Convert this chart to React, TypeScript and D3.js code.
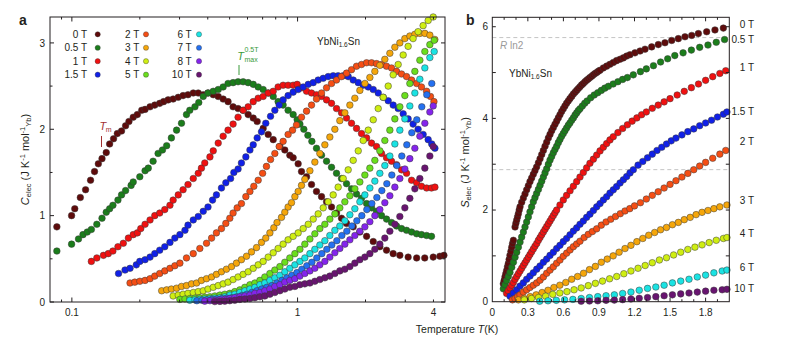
import React from "react";
import * as d3 from "d3";

type Pt = [number, number];

// ---------------- colours per field ----------------
const fieldColors: Record<string, string> = {
  "0 T": "#5e0b0b",
  "0.5 T": "#1b7d1b",
  "1 T": "#f01010",
  "1.5 T": "#1020e8",
  "2 T": "#f54e14",
  "3 T": "#f5a60a",
  "4 T": "#cfee12",
  "5 T": "#6ade1c",
  "6 T": "#1ae3e3",
  "7 T": "#2470f0",
  "8 T": "#8424ec",
  "10 T": "#681470",
};

// ---------------- panel a: C_elec (J K-1 mol-1) vs T (K) ----------------
const fieldsA = ["0 T", "0.5 T", "1 T", "1.5 T", "2 T", "3 T", "4 T", "5 T", "6 T", "7 T", "8 T", "10 T"];

const cA_0T: Pt[] = [[0.0858,0.87],[0.0997,1.00],[0.103,1.08],[0.109,1.21],[0.115,1.30],[0.121,1.41],[0.126,1.51],[0.131,1.60],[0.136,1.66],[0.142,1.73],[0.147,1.83],[0.153,1.89],[0.159,1.95],[0.166,1.98],[0.173,2.04],[0.179,2.09],[0.187,2.14],[0.195,2.17],[0.204,2.22],[0.211,2.23],[0.222,2.26],[0.233,2.28],[0.245,2.30],[0.255,2.32],[0.267,2.34],[0.281,2.35],[0.296,2.37],[0.311,2.39],[0.327,2.40],[0.345,2.42],[0.363,2.42],[0.382,2.40],[0.401,2.42],[0.423,2.40],[0.445,2.38],[0.468,2.35],[0.492,2.32],[0.518,2.26],[0.545,2.24],[0.574,2.22],[0.604,2.17],[0.636,2.13],[0.662,2.09],[0.704,2.01],[0.741,1.94],[0.780,1.88],[0.835,1.80],[0.878,1.76],[0.924,1.70],[0.956,1.67],[1.006,1.60],[1.041,1.51],[1.096,1.45],[1.153,1.36],[1.213,1.28],[1.277,1.22],[1.344,1.16],[1.414,1.10],[1.488,1.03],[1.566,0.97],[1.648,0.91],[1.764,0.87],[1.888,0.81],[2.022,0.76],[2.164,0.70],[2.315,0.64],[2.478,0.60],[2.652,0.56],[2.839,0.54],[3.09,0.52],[3.37,0.51],[3.66,0.51],[3.99,0.52],[4.27,0.53],[4.45,0.54]];
const cA_05T: Pt[] = [[0.0858,0.59],[0.0997,0.67],[0.107,0.73],[0.112,0.78],[0.117,0.81],[0.122,0.84],[0.129,0.90],[0.136,0.97],[0.142,1.04],[0.147,1.08],[0.152,1.12],[0.160,1.18],[0.166,1.24],[0.173,1.29],[0.183,1.35],[0.187,1.39],[0.200,1.45],[0.211,1.52],[0.218,1.55],[0.229,1.63],[0.241,1.72],[0.252,1.76],[0.263,1.81],[0.276,1.90],[0.291,1.99],[0.306,2.07],[0.322,2.17],[0.333,2.22],[0.351,2.26],[0.365,2.31],[0.382,2.38],[0.401,2.42],[0.423,2.44],[0.445,2.46],[0.468,2.49],[0.492,2.53],[0.518,2.54],[0.545,2.55],[0.574,2.55],[0.604,2.54],[0.636,2.52],[0.669,2.49],[0.704,2.46],[0.741,2.42],[0.780,2.38],[0.820,2.32],[0.863,2.28],[0.908,2.22],[0.956,2.17],[0.996,2.11],[1.024,2.06],[1.066,2.00],[1.111,1.93],[1.157,1.86],[1.213,1.78],[1.277,1.70],[1.344,1.63],[1.414,1.56],[1.488,1.49],[1.566,1.43],[1.648,1.37],[1.734,1.31],[1.825,1.25],[1.920,1.20],[2.022,1.14],[2.127,1.09],[2.238,1.05],[2.355,1.00],[2.478,0.96],[2.608,0.92],[2.745,0.88],[2.888,0.85],[3.04,0.83],[3.20,0.81],[3.37,0.79],[3.54,0.78],[3.73,0.77],[3.92,0.76]];
const cA_1T: Pt[] = [[0.122,0.47],[0.129,0.51],[0.138,0.54],[0.145,0.56],[0.152,0.59],[0.160,0.64],[0.169,0.68],[0.178,0.74],[0.187,0.78],[0.195,0.80],[0.202,0.85],[0.211,0.90],[0.222,0.95],[0.233,1.00],[0.245,1.03],[0.258,1.07],[0.272,1.12],[0.281,1.18],[0.296,1.24],[0.311,1.30],[0.327,1.36],[0.345,1.43],[0.363,1.49],[0.375,1.55],[0.388,1.61],[0.409,1.68],[0.423,1.75],[0.445,1.84],[0.468,1.92],[0.492,1.99],[0.518,2.06],[0.545,2.14],[0.574,2.22],[0.604,2.26],[0.636,2.32],[0.669,2.36],[0.704,2.38],[0.741,2.42],[0.780,2.44],[0.820,2.49],[0.863,2.51],[0.908,2.51],[0.956,2.51],[0.996,2.52],[1.041,2.48],[1.096,2.44],[1.153,2.42],[1.213,2.40],[1.277,2.38],[1.344,2.34],[1.414,2.30],[1.488,2.24],[1.566,2.19],[1.648,2.13],[1.734,2.07],[1.825,2.01],[1.920,1.95],[2.022,1.90],[2.127,1.84],[2.238,1.80],[2.355,1.72],[2.478,1.67],[2.608,1.63],[2.745,1.59],[2.888,1.53],[3.04,1.49],[3.20,1.41],[3.37,1.38],[3.54,1.34],[3.73,1.32],[3.92,1.32],[4.06,1.33]];
const cA_15T: Pt[] = [[0.161,0.33],[0.172,0.37],[0.181,0.39],[0.193,0.43],[0.200,0.47],[0.211,0.49],[0.222,0.52],[0.233,0.56],[0.245,0.60],[0.258,0.64],[0.272,0.69],[0.286,0.74],[0.301,0.78],[0.317,0.83],[0.327,0.89],[0.345,0.95],[0.363,0.99],[0.382,1.05],[0.401,1.10],[0.420,1.18],[0.437,1.24],[0.460,1.32],[0.481,1.38],[0.505,1.43],[0.522,1.50],[0.545,1.54],[0.564,1.61],[0.590,1.68],[0.615,1.76],[0.636,1.82],[0.662,1.90],[0.692,1.97],[0.723,2.07],[0.759,2.15],[0.793,2.22],[0.829,2.28],[0.863,2.34],[0.908,2.39],[0.956,2.43],[1.006,2.46],[1.059,2.49],[1.115,2.52],[1.173,2.54],[1.234,2.57],[1.299,2.59],[1.367,2.61],[1.438,2.62],[1.513,2.62],[1.593,2.62],[1.676,2.61],[1.764,2.57],[1.857,2.54],[1.954,2.51],[2.056,2.49],[2.164,2.46],[2.277,2.42],[2.396,2.37],[2.521,2.33],[2.652,2.28],[2.791,2.24],[2.937,2.18],[3.09,2.12],[3.25,2.06],[3.42,2.00],[3.60,1.94],[3.79,1.88],[3.93,1.83],[4.06,1.78]];
const cA_2T: Pt[] = [[0.181,0.22],[0.190,0.23],[0.200,0.24],[0.211,0.25],[0.222,0.27],[0.233,0.30],[0.245,0.33],[0.258,0.36],[0.272,0.39],[0.286,0.42],[0.301,0.45],[0.322,0.51],[0.345,0.56],[0.369,0.62],[0.395,0.68],[0.416,0.74],[0.437,0.80],[0.460,0.85],[0.481,0.91],[0.501,0.97],[0.518,1.03],[0.540,1.09],[0.564,1.14],[0.590,1.22],[0.615,1.28],[0.640,1.34],[0.669,1.41],[0.700,1.49],[0.728,1.57],[0.759,1.65],[0.793,1.72],[0.829,1.80],[0.863,1.86],[0.908,1.94],[0.950,1.99],[0.989,2.05],[1.041,2.14],[1.096,2.21],[1.153,2.28],[1.213,2.35],[1.277,2.42],[1.344,2.48],[1.414,2.53],[1.488,2.57],[1.566,2.61],[1.648,2.65],[1.734,2.69],[1.825,2.73],[1.920,2.75],[2.022,2.77],[2.127,2.77],[2.238,2.76],[2.355,2.75],[2.478,2.73],[2.608,2.71],[2.745,2.67],[2.888,2.64],[3.04,2.61],[3.20,2.57],[3.37,2.53],[3.54,2.49],[3.73,2.44],[3.88,2.38],[4.02,2.32]];
const cA_3T: Pt[] = [[0.250,0.13],[0.263,0.14],[0.276,0.15],[0.291,0.16],[0.306,0.18],[0.322,0.19],[0.339,0.21],[0.357,0.22],[0.375,0.25],[0.395,0.27],[0.416,0.29],[0.437,0.32],[0.460,0.35],[0.484,0.38],[0.510,0.41],[0.536,0.45],[0.564,0.49],[0.594,0.53],[0.625,0.58],[0.658,0.63],[0.692,0.69],[0.723,0.74],[0.754,0.80],[0.785,0.86],[0.811,0.92],[0.849,0.98],[0.878,1.04],[0.908,1.10],[0.940,1.15],[0.973,1.22],[1.006,1.28],[1.041,1.35],[1.077,1.42],[1.134,1.52],[1.193,1.62],[1.255,1.72],[1.321,1.82],[1.390,1.91],[1.463,2.00],[1.539,2.10],[1.620,2.19],[1.705,2.28],[1.794,2.36],[1.888,2.45],[1.987,2.53],[2.091,2.60],[2.200,2.67],[2.315,2.74],[2.436,2.81],[2.564,2.88],[2.698,2.95],[2.839,3.00],[2.988,3.05],[3.144,3.08],[3.309,3.10],[3.482,3.11],[3.664,3.11],[3.856,3.09],[4.057,3.04]];
const cA_4T: Pt[] = [[0.281,0.07],[0.296,0.08],[0.311,0.09],[0.327,0.10],[0.345,0.11],[0.363,0.12],[0.382,0.13],[0.401,0.15],[0.423,0.17],[0.445,0.19],[0.468,0.21],[0.492,0.23],[0.518,0.26],[0.545,0.29],[0.574,0.32],[0.604,0.35],[0.636,0.39],[0.669,0.43],[0.704,0.47],[0.741,0.52],[0.780,0.57],[0.820,0.62],[0.863,0.67],[0.908,0.72],[0.956,0.76],[1.006,0.80],[1.059,0.85],[1.115,0.90],[1.173,0.96],[1.234,1.02],[1.299,1.09],[1.367,1.16],[1.438,1.24],[1.513,1.33],[1.593,1.43],[1.676,1.53],[1.764,1.64],[1.857,1.75],[1.954,1.87],[2.056,1.99],[2.164,2.11],[2.277,2.24],[2.396,2.37],[2.521,2.50],[2.652,2.63],[2.791,2.75],[2.937,2.86],[3.09,2.96],[3.25,3.05],[3.42,3.13],[3.60,3.20],[3.79,3.26],[3.99,3.30]];
const cA_5T: Pt[] = [[0.301,0.03],[0.317,0.035],[0.333,0.04],[0.351,0.045],[0.369,0.05],[0.388,0.055],[0.409,0.06],[0.430,0.07],[0.453,0.08],[0.476,0.09],[0.501,0.10],[0.527,0.12],[0.555,0.14],[0.584,0.17],[0.615,0.20],[0.647,0.22],[0.681,0.25],[0.716,0.29],[0.754,0.33],[0.793,0.37],[0.835,0.41],[0.878,0.46],[0.924,0.51],[0.973,0.56],[1.024,0.61],[1.077,0.67],[1.134,0.73],[1.193,0.79],[1.255,0.85],[1.321,0.90],[1.390,0.96],[1.463,1.02],[1.539,1.09],[1.620,1.16],[1.705,1.23],[1.794,1.31],[1.888,1.39],[1.987,1.47],[2.091,1.55],[2.200,1.64],[2.315,1.75],[2.436,1.87],[2.564,1.99],[2.698,2.12],[2.839,2.26],[2.988,2.39],[3.144,2.53],[3.309,2.67],[3.482,2.80],[3.664,2.90],[3.856,2.98],[4.03,3.03]];
const cA_6T: Pt[] = [[0.333,0.02],[0.351,0.025],[0.369,0.03],[0.388,0.035],[0.409,0.04],[0.430,0.045],[0.453,0.05],[0.476,0.06],[0.501,0.08],[0.527,0.09],[0.555,0.11],[0.584,0.13],[0.615,0.15],[0.647,0.17],[0.681,0.20],[0.716,0.22],[0.754,0.25],[0.793,0.28],[0.835,0.31],[0.878,0.35],[0.924,0.39],[0.973,0.43],[1.024,0.47],[1.077,0.51],[1.134,0.56],[1.193,0.61],[1.255,0.66],[1.321,0.71],[1.390,0.77],[1.463,0.83],[1.539,0.88],[1.620,0.94],[1.705,1.01],[1.794,1.08],[1.888,1.16],[1.987,1.24],[2.091,1.32],[2.200,1.40],[2.315,1.49],[2.436,1.58],[2.564,1.69],[2.698,1.83],[2.839,1.99],[2.988,2.12],[3.144,2.27],[3.309,2.42],[3.482,2.58],[3.664,2.71],[3.856,2.83],[4.03,2.90]];
const cA_7T: Pt[] = [[0.358,0.015],[0.377,0.02],[0.396,0.025],[0.417,0.03],[0.439,0.035],[0.462,0.04],[0.486,0.045],[0.512,0.05],[0.538,0.06],[0.567,0.075],[0.596,0.09],[0.627,0.11],[0.660,0.13],[0.694,0.15],[0.731,0.17],[0.769,0.19],[0.809,0.22],[0.852,0.25],[0.896,0.28],[0.943,0.31],[0.993,0.34],[1.045,0.38],[1.099,0.42],[1.157,0.46],[1.217,0.51],[1.281,0.56],[1.348,0.61],[1.418,0.66],[1.493,0.71],[1.571,0.77],[1.653,0.82],[1.740,0.88],[1.831,0.94],[1.926,1.00],[2.027,1.07],[2.133,1.14],[2.245,1.21],[2.362,1.29],[2.486,1.37],[2.616,1.47],[2.752,1.58],[2.896,1.69],[3.048,1.82],[3.207,1.96],[3.375,2.11],[3.551,2.26],[3.737,2.40],[3.932,2.53]];
const cA_8T: Pt[] = [[0.388,0.01],[0.409,0.015],[0.430,0.02],[0.453,0.025],[0.476,0.03],[0.501,0.04],[0.527,0.05],[0.555,0.06],[0.584,0.07],[0.615,0.08],[0.647,0.10],[0.681,0.11],[0.716,0.13],[0.754,0.15],[0.793,0.18],[0.835,0.20],[0.878,0.23],[0.924,0.25],[0.973,0.27],[1.024,0.30],[1.077,0.33],[1.134,0.36],[1.193,0.39],[1.255,0.43],[1.321,0.47],[1.390,0.52],[1.463,0.57],[1.539,0.62],[1.620,0.67],[1.705,0.72],[1.794,0.77],[1.888,0.82],[1.987,0.87],[2.091,0.93],[2.200,1.00],[2.315,1.07],[2.436,1.15],[2.564,1.23],[2.698,1.33],[2.839,1.43],[2.988,1.54],[3.144,1.66],[3.309,1.78],[3.482,1.92],[3.664,2.07],[3.856,2.20],[3.99,2.27]];
const cA_10T: Pt[] = [[0.430,0.005],[0.453,0.007],[0.476,0.01],[0.501,0.015],[0.527,0.02],[0.555,0.03],[0.584,0.035],[0.615,0.04],[0.647,0.05],[0.681,0.06],[0.716,0.07],[0.754,0.09],[0.793,0.11],[0.835,0.13],[0.878,0.15],[0.924,0.17],[0.973,0.18],[1.024,0.20],[1.077,0.21],[1.134,0.22],[1.193,0.24],[1.255,0.26],[1.321,0.28],[1.390,0.30],[1.463,0.33],[1.539,0.36],[1.620,0.38],[1.705,0.41],[1.794,0.45],[1.888,0.49],[1.987,0.52],[2.091,0.56],[2.200,0.61],[2.315,0.67],[2.436,0.74],[2.564,0.82],[2.698,0.90],[2.839,0.99],[2.988,1.09],[3.144,1.20],[3.309,1.31],[3.482,1.43],[3.664,1.55],[3.856,1.69],[3.99,1.80]];

const seriesA: Pt[][] = [cA_0T, cA_05T, cA_1T, cA_15T, cA_2T, cA_3T, cA_4T, cA_5T, cA_6T, cA_7T, cA_8T, cA_10T];

// ticks panel a
const aXMajor = [0.1, 1];
const aXMinor = [0.09, 0.2, 0.3, 0.4, 0.5, 0.6, 0.7, 0.8, 0.9, 2, 3, 4];
const aXLabels = [0.1, 1, 4];
const aYMajor = [0, 1, 2, 3];
const aYMinor = [0.5, 1.5, 2.5];

// ---------------- panel b: S_elec vs T (linear) ----------------
const fieldsB = ["0 T", "0.5 T", "1 T", "1.5 T", "2 T", "3 T", "4 T", "6 T", "10 T"];

const sB_0T: Pt[] = [[0.093,0.39],[0.100,0.46],[0.107,0.54],[0.114,0.61],[0.121,0.68],[0.128,0.76],[0.135,0.83],[0.142,0.92],[0.149,1.01],[0.157,1.10],[0.164,1.19],[0.171,1.27],[0.178,1.34],[0.192,1.63],[0.199,1.71],[0.206,1.78],[0.213,1.85],[0.220,1.92],[0.227,2.00],[0.234,2.07],[0.248,2.17],[0.262,2.26],[0.276,2.35],[0.290,2.44],[0.304,2.53],[0.318,2.62],[0.332,2.70],[0.346,2.78],[0.360,2.86],[0.374,2.94],[0.389,3.03],[0.403,3.12],[0.417,3.21],[0.431,3.30],[0.445,3.39],[0.459,3.48],[0.473,3.57],[0.487,3.65],[0.501,3.73],[0.515,3.80],[0.529,3.87],[0.543,3.94],[0.557,4.01],[0.571,4.08],[0.585,4.15],[0.599,4.21],[0.613,4.27],[0.627,4.33],[0.641,4.38],[0.655,4.43],[0.670,4.48],[0.684,4.53],[0.698,4.57],[0.712,4.61],[0.726,4.65],[0.740,4.69],[0.754,4.73],[0.768,4.76],[0.782,4.80],[0.796,4.83],[0.810,4.86],[0.824,4.89],[0.839,4.92],[0.853,4.95],[0.867,4.98],[0.881,5.00],[0.895,5.03],[0.909,5.05],[0.937,5.10],[0.965,5.14],[0.993,5.18],[1.021,5.22],[1.049,5.26],[1.078,5.29],[1.106,5.32],[1.134,5.36],[1.162,5.39],[1.204,5.43],[1.247,5.47],[1.289,5.51],[1.345,5.56],[1.401,5.61],[1.457,5.65],[1.514,5.70],[1.570,5.74],[1.626,5.78],[1.683,5.81],[1.739,5.85],[1.809,5.89],[1.879,5.93],[1.950,5.97]];
const sB_05T: Pt[] = [[0.093,0.28],[0.107,0.37],[0.121,0.46],[0.135,0.55],[0.149,0.64],[0.164,0.75],[0.178,0.86],[0.192,0.97],[0.206,1.08],[0.220,1.19],[0.234,1.30],[0.248,1.41],[0.262,1.52],[0.276,1.63],[0.290,1.74],[0.304,1.85],[0.318,1.96],[0.332,2.07],[0.346,2.18],[0.360,2.27],[0.374,2.36],[0.389,2.45],[0.403,2.54],[0.417,2.63],[0.431,2.72],[0.445,2.81],[0.459,2.90],[0.473,3.00],[0.487,3.09],[0.501,3.17],[0.515,3.25],[0.529,3.32],[0.543,3.39],[0.557,3.47],[0.571,3.54],[0.585,3.61],[0.599,3.67],[0.613,3.73],[0.627,3.79],[0.641,3.85],[0.655,3.90],[0.670,3.96],[0.684,4.01],[0.698,4.07],[0.712,4.12],[0.726,4.17],[0.740,4.21],[0.760,4.27],[0.780,4.33],[0.800,4.38],[0.830,4.45],[0.860,4.51],[0.890,4.56],[0.920,4.61],[0.950,4.66],[0.980,4.70],[1.020,4.75],[1.060,4.80],[1.100,4.85],[1.140,4.89],[1.190,4.95],[1.250,5.02],[1.300,5.08],[1.360,5.15],[1.420,5.23],[1.480,5.30],[1.540,5.37],[1.610,5.43],[1.680,5.49],[1.750,5.55],[1.820,5.60],[1.890,5.66],[1.960,5.72]];
const sB_1T: Pt[] = [[0.121,0.18],[0.135,0.24],[0.150,0.30],[0.164,0.36],[0.178,0.42],[0.192,0.49],[0.206,0.55],[0.220,0.61],[0.234,0.67],[0.248,0.73],[0.262,0.79],[0.276,0.85],[0.290,0.91],[0.304,0.97],[0.318,1.03],[0.332,1.09],[0.346,1.15],[0.360,1.21],[0.375,1.27],[0.389,1.34],[0.403,1.40],[0.417,1.46],[0.431,1.52],[0.445,1.58],[0.459,1.64],[0.473,1.70],[0.487,1.76],[0.501,1.82],[0.515,1.88],[0.529,1.94],[0.543,2.00],[0.571,2.11],[0.599,2.22],[0.627,2.32],[0.656,2.42],[0.684,2.52],[0.712,2.62],[0.740,2.72],[0.768,2.82],[0.796,2.92],[0.824,3.02],[0.853,3.11],[0.881,3.20],[0.909,3.29],[0.937,3.37],[0.965,3.45],[0.993,3.53],[1.021,3.60],[1.060,3.69],[1.100,3.78],[1.140,3.86],[1.180,3.94],[1.220,4.01],[1.260,4.08],[1.300,4.14],[1.350,4.22],[1.400,4.29],[1.450,4.36],[1.500,4.43],[1.560,4.51],[1.620,4.59],[1.680,4.67],[1.740,4.75],[1.800,4.83],[1.860,4.91],[1.920,4.98],[1.970,5.04]];
const sB_15T: Pt[] = [[0.150,0.12],[0.178,0.19],[0.206,0.26],[0.234,0.34],[0.262,0.41],[0.290,0.49],[0.318,0.56],[0.346,0.63],[0.375,0.71],[0.403,0.78],[0.431,0.86],[0.459,0.93],[0.487,1.01],[0.515,1.08],[0.543,1.16],[0.571,1.23],[0.599,1.31],[0.627,1.38],[0.656,1.46],[0.684,1.54],[0.712,1.61],[0.740,1.69],[0.768,1.76],[0.796,1.84],[0.824,1.91],[0.853,1.99],[0.881,2.07],[0.909,2.14],[0.937,2.22],[0.965,2.29],[0.993,2.37],[1.021,2.44],[1.049,2.51],[1.078,2.59],[1.106,2.66],[1.134,2.73],[1.162,2.81],[1.190,2.88],[1.230,2.98],[1.270,3.06],[1.310,3.14],[1.350,3.22],[1.390,3.30],[1.430,3.37],[1.470,3.44],[1.510,3.51],[1.550,3.57],[1.600,3.64],[1.650,3.71],[1.700,3.77],[1.750,3.84],[1.800,3.90],[1.850,3.96],[1.900,4.03],[1.950,4.09],[1.980,4.14]];
const sB_2T: Pt[] = [[0.170,0.04],[0.192,0.07],[0.213,0.11],[0.234,0.15],[0.262,0.21],[0.290,0.26],[0.318,0.31],[0.346,0.36],[0.375,0.41],[0.403,0.47],[0.431,0.54],[0.459,0.62],[0.487,0.69],[0.515,0.76],[0.543,0.84],[0.571,0.91],[0.599,0.99],[0.628,1.06],[0.656,1.13],[0.684,1.20],[0.712,1.26],[0.740,1.32],[0.775,1.40],[0.810,1.47],[0.845,1.53],[0.881,1.59],[0.920,1.67],[0.960,1.74],[1.000,1.80],[1.040,1.86],[1.080,1.92],[1.120,1.98],[1.160,2.03],[1.200,2.09],[1.250,2.16],[1.300,2.24],[1.350,2.32],[1.400,2.40],[1.450,2.48],[1.500,2.56],[1.550,2.64],[1.600,2.72],[1.650,2.80],[1.700,2.88],[1.750,2.96],[1.800,3.04],[1.860,3.13],[1.920,3.22],[1.970,3.30]];
const sB_3T: Pt[] = [[0.22,0.04],[0.27,0.07],[0.32,0.11],[0.37,0.15],[0.42,0.20],[0.47,0.25],[0.52,0.31],[0.57,0.36],[0.62,0.42],[0.67,0.49],[0.72,0.55],[0.77,0.62],[0.82,0.70],[0.87,0.77],[0.92,0.86],[0.97,0.93],[1.02,1.00],[1.07,1.08],[1.12,1.16],[1.17,1.23],[1.22,1.31],[1.27,1.38],[1.32,1.45],[1.37,1.51],[1.42,1.57],[1.47,1.62],[1.52,1.68],[1.57,1.73],[1.62,1.79],[1.67,1.84],[1.72,1.90],[1.77,1.95],[1.82,1.99],[1.87,2.03],[1.92,2.07],[1.98,2.11]];
const sB_4T: Pt[] = [[0.27,0.04],[0.33,0.07],[0.39,0.09],[0.45,0.12],[0.51,0.16],[0.57,0.19],[0.63,0.22],[0.69,0.26],[0.75,0.30],[0.81,0.35],[0.87,0.40],[0.93,0.45],[0.99,0.50],[1.05,0.55],[1.11,0.61],[1.17,0.67],[1.23,0.73],[1.29,0.79],[1.35,0.85],[1.41,0.91],[1.47,0.96],[1.53,1.02],[1.59,1.08],[1.65,1.14],[1.71,1.19],[1.77,1.24],[1.83,1.29],[1.89,1.34],[1.95,1.38],[1.98,1.40]];
const sB_6T: Pt[] = [[0.40,0.01],[0.47,0.02],[0.54,0.03],[0.61,0.04],[0.68,0.05],[0.75,0.07],[0.82,0.09],[0.89,0.11],[0.96,0.13],[1.03,0.15],[1.10,0.18],[1.17,0.21],[1.24,0.25],[1.31,0.29],[1.38,0.32],[1.45,0.36],[1.52,0.41],[1.59,0.45],[1.66,0.49],[1.73,0.54],[1.80,0.58],[1.87,0.63],[1.94,0.67],[1.98,0.69]];
const sB_10T: Pt[] = [[0.75,0.01],[0.82,0.015],[0.89,0.02],[0.96,0.03],[1.03,0.035],[1.10,0.045],[1.17,0.06],[1.24,0.075],[1.31,0.09],[1.38,0.11],[1.45,0.13],[1.52,0.15],[1.59,0.17],[1.66,0.19],[1.73,0.21],[1.80,0.23],[1.87,0.25],[1.94,0.26],[1.98,0.27]];

const seriesB: Pt[][] = [sB_0T, sB_05T, sB_1T, sB_15T, sB_2T, sB_3T, sB_4T, sB_6T, sB_10T];

const bXTicks = d3.range(1, 20).map((i) => i / 10);
const bXLabels = [0, 0.3, 0.6, 0.9, 1.2, 1.5, 1.8];
const bYTicks = [1, 2, 3, 4, 5, 6];
const bYLabels = [0, 2, 4, 6];
const Rln2 = 8.314 * Math.log(2);

// legend arrangement (columns of panel a legend)
const legendCols = [["0 T", "0.5 T", "1 T", "1.5 T"], ["2 T", "3 T", "4 T", "5 T"], ["6 T", "7 T", "8 T", "10 T"]];
// per-label vertical nudges (px) for panel-b right labels
const labelNudgeB = [-3.5, -0.5, -3, -1, -9, -4.5, -4, -3, -0.5];

const FONT = "Liberation Sans, Arial, Helvetica, sans-serif";
const INK = "#231f20";

export default function App() {
  const W = 789, H = 351;
  // panel a
  const aL = 50, aR = 445, aT = 17, aB = 302;
  const xA = d3.scaleLog().domain([0.08, 4.5]).range([aL, aR]);
  const yA = d3.scaleLinear().domain([0, 3.3]).range([aB, aT]);
  // panel b
  const bL = 492.3, bR = 729.3, bT = 17.3, bB = 301.7;
  const xB = d3.scaleLinear().domain([0, 2]).range([bL, bR]);
  const yB = d3.scaleLinear().domain([0, 6.2]).range([bB, bB - 6.2 * 45.83]);

  const dotStroke = "#3a3a3a";
  const r = 3.3;

  return (
    <svg width={W} height={H} viewBox={`0 0 ${W} ${H}`} style={{ position: "absolute", left: 0, top: 0, background: "#fff" }} fontFamily={FONT}>
      <rect x={0} y={0} width={W} height={H} fill="#fff" />

      {/* ============ PANEL A ============ */}
      <text x={19} y={25} fontSize={14} fontWeight="bold" fill={INK}>a</text>

      {/* data */}
      <g>
        {seriesA.map((s, i) => (
          <g key={i}>
            {s.map((p, j) => (
              <circle key={j} cx={xA(p[0])} cy={yA(p[1])} r={r} fill={fieldColors[fieldsA[i]]} stroke={dotStroke} strokeWidth={0.5} />
            ))}
          </g>
        ))}
      </g>

      {/* frame */}
      <rect x={aL} y={aT} width={aR - aL} height={aB - aT} fill="none" stroke={INK} strokeWidth={1} />

      {/* x ticks */}
      {aXMajor.map((t) => (
        <g key={"axm" + t}>
          <line x1={xA(t)} x2={xA(t)} y1={aB} y2={aB - 4.5} stroke={INK} />
          <line x1={xA(t)} x2={xA(t)} y1={aT} y2={aT + 4.5} stroke={INK} />
        </g>
      ))}
      {aXMinor.map((t) => (
        <g key={"axn" + t}>
          <line x1={xA(t)} x2={xA(t)} y1={aB} y2={aB - 2.5} stroke={INK} />
          <line x1={xA(t)} x2={xA(t)} y1={aT} y2={aT + 2.5} stroke={INK} />
        </g>
      ))}
      {aXLabels.map((t) => (
        <text key={"axl" + t} x={xA(t)} y={316} fontSize={10} textAnchor="middle" fill={INK}>{String(t)}</text>
      ))}
      {/* y ticks */}
      {aYMajor.map((v) => (
        <g key={"aym" + v}>
          <line x1={aL} x2={aL + 4} y1={yA(v)} y2={yA(v)} stroke={INK} />
          <line x1={aR} x2={aR - 4} y1={yA(v)} y2={yA(v)} stroke={INK} />
          <text x={45} y={yA(v) + 3.6} fontSize={10} textAnchor="end" fill={INK}>{v}</text>
        </g>
      ))}
      {aYMinor.map((v) => (
        <g key={"ayn" + v}>
          <line x1={aL} x2={aL + 2.5} y1={yA(v)} y2={yA(v)} stroke={INK} />
          <line x1={aR} x2={aR - 2.5} y1={yA(v)} y2={yA(v)} stroke={INK} />
        </g>
      ))}

      {/* y label a */}
      <text transform={`translate(29,${(aT + aB) / 2}) rotate(-90)`} fontSize={11} textAnchor="middle" fill={INK}>
        <tspan fontStyle="italic">C</tspan>
        <tspan fontSize={7.5} dy={2}>elec</tspan>
        <tspan dy={-2}> (J K</tspan>
        <tspan fontSize={7.5} dy={-4}>-1</tspan>
        <tspan dy={4}> mol</tspan>
        <tspan fontSize={7.5} dy={-4}>-1</tspan>
        <tspan fontSize={7.5} dy={6}>Yb</tspan>
        <tspan dy={-2}>)</tspan>
      </text>

      {/* legend */}
      {legendCols.map((col, ci) =>
        col.map((f, ri) => {
          const tx = [87, 139.3, 191.7][ci];
          const dx = [97.7, 146, 199][ci];
          const cy = 34.3 + ri * 13.45;
          return (
            <g key={f}>
              <text x={tx} y={cy + 3.6} fontSize={10} textAnchor="end" fill={INK}>{f}</text>
              <circle cx={dx} cy={cy} r={2.6} fill={fieldColors[f]} stroke={dotStroke} strokeWidth={0.4} />
            </g>
          );
        })
      )}

      {/* sample label a */}
      <text x={317} y={45} fontSize={10} fill={INK}>
        YbNi<tspan fontSize={6.5} dy={2}>1.6</tspan><tspan dy={-2}>Sn</tspan>
      </text>

      {/* T_m annotation */}
      <text x={99.5} y={129.5} fontSize={11} fontStyle="italic" fill="#a33030">T</text>
      <text x={105.8} y={132} fontSize={7} fill="#a33030">m</text>
      <line x1={101.5} x2={101.5} y1={136} y2={147} stroke="#a33030" strokeWidth={1} />

      {/* T_max^0.5T annotation */}
      <text x={237.3} y={60} fontSize={11} fontStyle="italic" fill="#3a9a3a">T</text>
      <text x={244.5} y={52} fontSize={7} fill="#3a9a3a">0.5T</text>
      <text x={244.5} y={61.5} fontSize={7} fill="#3a9a3a">max</text>
      <line x1={239} x2={239} y1={65} y2={75} stroke="#3a9a3a" strokeWidth={1} />

      {/* x-axis title shared */}
      <text x={457} y={333} fontSize={10.5} textAnchor="middle" fill={INK}>
        Temperature <tspan fontStyle="italic">T</tspan>(K)
      </text>

      {/* ============ PANEL B ============ */}
      <text x={466} y={25} fontSize={14} fontWeight="bold" fill={INK}>b</text>

      {/* dashed reference lines */}
      <line x1={bL} x2={bR} y1={yB(Rln2)} y2={yB(Rln2)} stroke="#c4c4c4" strokeDasharray="4 3" strokeWidth={1} />
      <line x1={bL} x2={bR} y1={yB(Rln2 / 2)} y2={yB(Rln2 / 2)} stroke="#c4c4c4" strokeDasharray="4 3" strokeWidth={1} />
      <text x={500} y={48.5} fontSize={10} fill="#9a9a9a">
        <tspan fontStyle="italic">R</tspan> ln2
      </text>

      <g>
        {seriesB.map((s, i) => (
          <g key={i}>
            {s.map((p, j) => (
              <circle key={j} cx={xB(p[0])} cy={yB(p[1])} r={r} fill={fieldColors[fieldsB[i]]} stroke={dotStroke} strokeWidth={0.5} />
            ))}
          </g>
        ))}
      </g>

      <rect x={bL} y={bT} width={bR - bL} height={bB - bT} fill="none" stroke={INK} strokeWidth={1} />

      {bXTicks.map((t) => {
        const major = bXLabels.some((l) => Math.abs(l - t) < 1e-6);
        const len = major ? 4 : 2.5;
        return (
          <g key={"bx" + t}>
            <line x1={xB(t)} x2={xB(t)} y1={bB} y2={bB - len} stroke={INK} />
            <line x1={xB(t)} x2={xB(t)} y1={bT} y2={bT + len} stroke={INK} />
          </g>
        );
      })}
      {bXLabels.map((t) => (
        <text key={"bxl" + t} x={xB(t)} y={315.5} fontSize={10} textAnchor="middle" fill={INK}>{String(t)}</text>
      ))}
      {bYTicks.map((v) => (
        <g key={"by" + v}>
          <line x1={bL} x2={bL + 3.5} y1={yB(v)} y2={yB(v)} stroke={INK} />
          <line x1={bR} x2={bR - 3.5} y1={yB(v)} y2={yB(v)} stroke={INK} />
        </g>
      ))}
      {bYLabels.map((v) => (
        <text key={"byl" + v} x={488} y={yB(v) + 3.3} fontSize={10} textAnchor="end" fill={INK}>{v}</text>
      ))}

      <text transform={`translate(469,${(bT + bB) / 2 + 3}) rotate(-90)`} fontSize={11} textAnchor="middle" fill={INK}>
        <tspan fontStyle="italic">S</tspan>
        <tspan fontSize={7.5} dy={2}>elec</tspan>
        <tspan dy={-2}> (J K</tspan>
        <tspan fontSize={7.5} dy={-4}>-1</tspan>
        <tspan dy={4}> mol</tspan>
        <tspan fontSize={7.5} dy={-4}>-1</tspan>
        <tspan fontSize={7.5} dy={6}>Yb</tspan>
        <tspan dy={-2}>)</tspan>
      </text>

      <text x={509} y={77} fontSize={10} fill={INK}>
        YbNi<tspan fontSize={6.5} dy={2}>1.6</tspan><tspan dy={-2}>Sn</tspan>
      </text>

      {/* right-side field labels */}
      {seriesB.map((s, i) => {
        const last = s[s.length - 1];
        return (
          <text key={"lb" + i} x={754} y={yB(last[1]) + labelNudgeB[i] + 3.6} fontSize={10} textAnchor="end" fill={INK}>
            {fieldsB[i]}
          </text>
        );
      })}
    </svg>
  );
}
